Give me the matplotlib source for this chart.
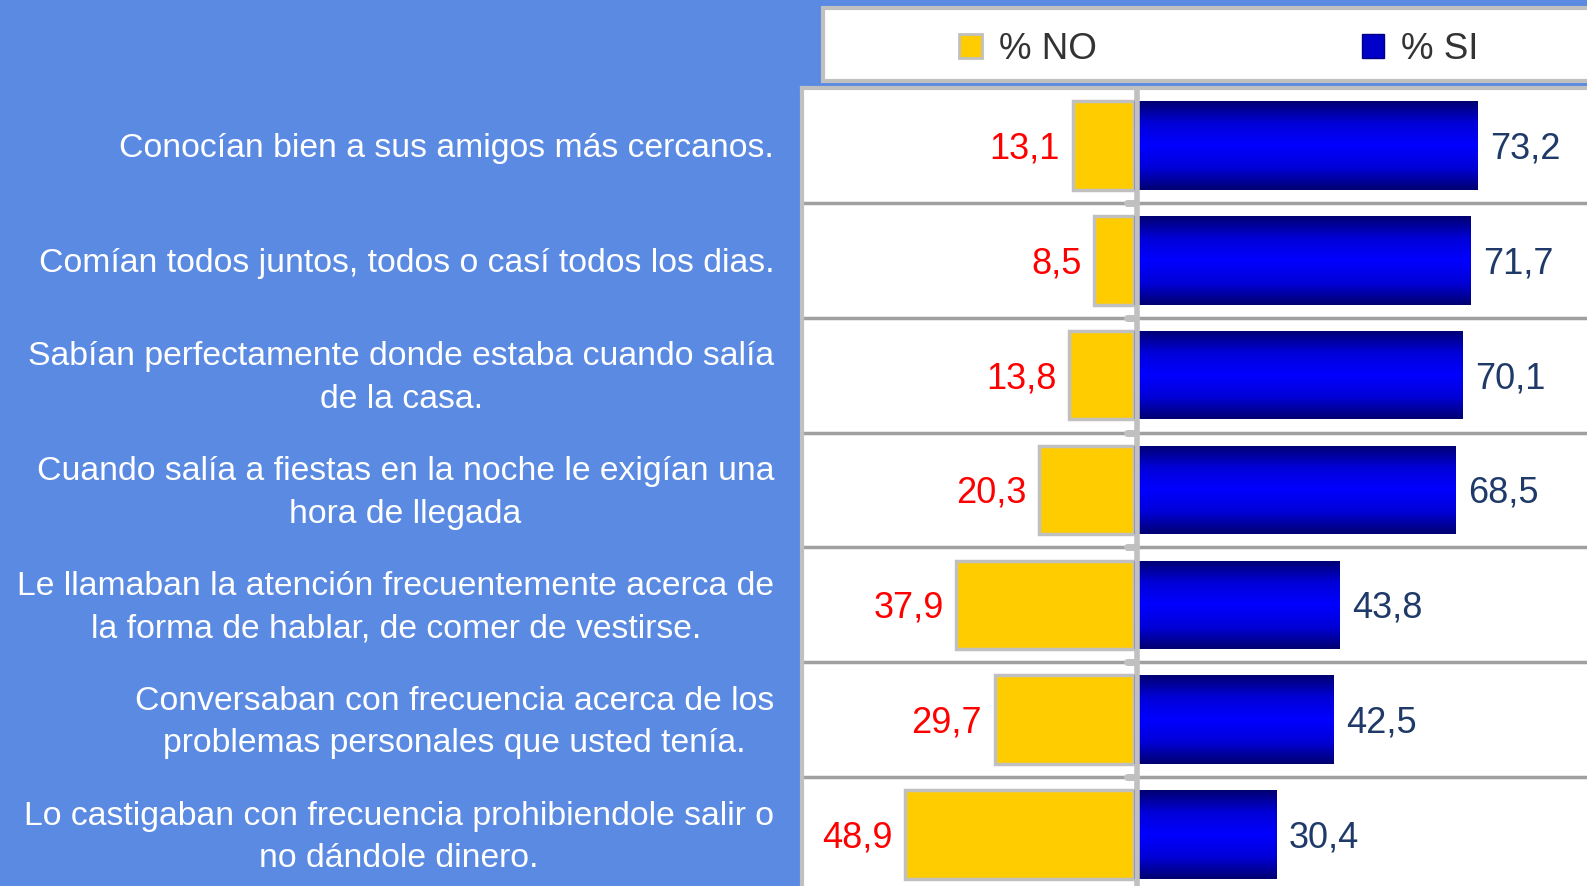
import numpy as np
import matplotlib
matplotlib.use("Agg")
import matplotlib.pyplot as plt
import matplotlib.transforms as mtrans
from matplotlib.patches import Rectangle
from matplotlib.colors import LinearSegmentedColormap

plt.rcParams['font.family'] = ['Liberation Sans', 'DejaVu Sans']

categories = [
    "Conocían bien a sus amigos más cercanos.",
    "Comían todos juntos, todos o casí todos los dias.",
    "Sabían perfectamente donde estaba cuando salía\nde la casa.",
    "Cuando salía a fiestas en la noche le exigían una\nhora de llegada",
    "Le llamaban la atención frecuentemente acerca de\nla forma de hablar, de comer de vestirse.",
    "Conversaban con frecuencia acerca de los\nproblemas personales que usted tenía.",
    "Lo castigaban con frecuencia prohibiendole salir o\nno dándole dinero.",
]
pct_no = [13.1, 8.5, 13.8, 20.3, 37.9, 29.7, 48.9]
pct_si = [73.2, 71.7, 70.1, 68.5, 43.8, 42.5, 30.4]

bg = '#5A8AE2'
yellow = '#FFCC00'
edge_gray = '#C0C0C0'

fig = plt.figure(figsize=(15.87, 8.86), dpi=100, facecolor=bg)
ax = fig.add_axes([802/1587, -6/886, 1 - 802/1587, 804/886])
ax.set_facecolor('white')

y = np.arange(len(categories))
no_bars = ax.barh(y, -np.array(pct_no), height=0.77, color=yellow,
                  edgecolor=edge_gray, linewidth=2.5, zorder=3)
si_bars = ax.barh(y, pct_si, height=0.77, color='#0000FF', linewidth=0, zorder=3)

# vertical gradient on SI bars: navy at the edges, bright blue in the middle
cmap = LinearSegmentedColormap.from_list('sig', ['#000070', '#0000D8', '#0000FF', '#0000D8', '#000070'])
grad = np.linspace(0, 1, 256).reshape(-1, 1)
for b in si_bars:
    x0, y0 = b.get_x(), b.get_y()
    w, h = b.get_width(), b.get_height()
    im = ax.imshow(grad, cmap=cmap, aspect='auto', extent=(x0, x0 + w, y0, y0 + h),
                   zorder=4, interpolation='bilinear')
    im.set_clip_path(b)

ax.set_xlim(-70.8, 96.6)
ax.set_ylim(len(categories) - 0.5, -0.5)

# row separators, centre line and its little tick marks
for i in range(len(categories) - 1):
    ax.axhline(i + 0.5, color='#A0A0A0', linewidth=2.5, zorder=2)
    ax.plot([-1.6, 0.5], [i + 0.5, i + 0.5], color=edge_gray, linewidth=5,
            solid_capstyle='round', zorder=5)
ax.axvline(0.55, color=edge_gray, linewidth=4, zorder=5)

for i, (n, s) in enumerate(zip(pct_no, pct_si)):
    ax.annotate(f"{n:.1f}".replace('.', ','), (-n, i), xytext=(-9, -2.5),
                textcoords='offset points', ha='right', va='center',
                color='#FF0000', fontsize=26)
    ax.annotate(f"{s:.1f}".replace('.', ','), (s, i), xytext=(9, -2.5),
                textcoords='offset points', ha='left', va='center',
                color='#1F3A68', fontsize=26)

ax.set_yticks(y)
ax.set_yticklabels(categories, fontsize=24.3, color='white', linespacing=1.48)
ax.tick_params(axis='y', length=0, pad=20)
# two-line labels sit a little higher in the original
up = mtrans.ScaledTranslation(0, 4.5/72, fig.dpi_scale_trans)
for lab in ax.get_yticklabels():
    lab.set_multialignment('center')
    if '\n' in lab.get_text():
        lab.set_transform(lab.get_transform() + up)
ax.set_xticks([])
for side in ['right', 'bottom']:
    ax.spines[side].set_visible(False)
for side in ['left', 'top']:
    ax.spines[side].set_color(edge_gray)
    ax.spines[side].set_linewidth(3)

# legend box
fig.patches.append(Rectangle((823/1587, 1 - 81/886), 1, 73/886, transform=fig.transFigure,
                             facecolor='white', edgecolor=edge_gray, linewidth=3))
h_no = Rectangle((0, 0), 1, 1, facecolor=yellow, edgecolor=edge_gray, linewidth=2)
h_si = Rectangle((0, 0), 1, 1, facecolor='#0000C8', edgecolor='#000080', linewidth=1)
fig.legend([h_no, h_si], ['% NO', '% SI'], loc='center', bbox_to_anchor=(0.768, 0.944),
           ncol=2, frameon=False, fontsize=26.5, handlelength=0.62, handleheight=0.62,
           handletextpad=0.45, columnspacing=7.2, labelcolor='#333333')

fig.savefig('out.png', dpi=100, facecolor=bg)
